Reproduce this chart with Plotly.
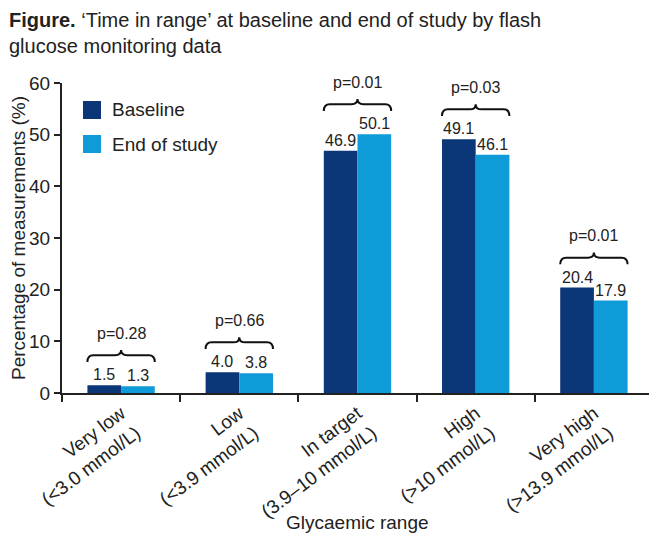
import plotly.graph_objects as go

categories = ["Very low", "Low", "In target", "High", "Very high"]
tick_labels = ["Very low<br>(&lt;3.0 mmol/L)", "Low<br>(&lt;3.9 mmol/L)", "In target<br>(3.9–10 mmol/L)",
               "High<br>(&gt;10 mmol/L)", "Very high<br>(&gt;13.9 mmol/L)"]
baseline = [1.5, 4.0, 46.9, 49.1, 20.4]
end_of_study = [1.3, 3.8, 50.1, 46.1, 17.9]
p_values = ["p=0.28", "p=0.66", "p=0.01", "p=0.03", "p=0.01"]
series_names = ["Baseline", "End of study"]

C_BASE = "#0b3677"
C_END = "#0f9ad8"
FONT = "Liberation Sans, Arial, sans-serif"
TXT = "#222"
BARGAP = 0.43
half = (1 - BARGAP) / 2  # width of one bar in category units
YMAX = 60

# the page body has an 8px margin: size the figure so it fits the 657x542 window
OFF = 8
W, H = 657 - OFF, 542 - OFF
# desired plot area in page pixels: x 62..653, y 83..393
L, R, T, B = 62 - OFF, 657 - 653, 83 - OFF, 542 - 393
PW, PH = W - L - R, H - T - B


def py(pix):
    """page pixel row -> paper y"""
    return (H - B - (pix - OFF)) / PH


def px(pix):
    """page pixel column -> paper x"""
    return (pix - OFF - L) / PW


fig = go.Figure()
fig.add_bar(x=categories, y=baseline, name=series_names[0], marker_color=C_BASE, marker_line_width=0)
fig.add_bar(x=categories, y=end_of_study, name=series_names[1], marker_color=C_END, marker_line_width=0)

annotations = []
shapes = []
for i, (b, e, p) in enumerate(zip(baseline, end_of_study, p_values)):
    for off, v in ((-half / 2, b), (half / 2, e)):
        annotations.append(dict(x=i + off, y=v, xref="x", yref="y", text=f"{v:.1f}", showarrow=False,
                                yanchor="bottom", font=dict(size=16, color=TXT, family=FONT)))
    yb = max(b, e) + 5.8
    x0, x1, xm = i - half, i + half, i
    d = 0.05
    y0, yt = yb - 1.3, yb + 1.0
    path = (f"M {x0},{y0} Q {x0},{yb} {x0+d},{yb} L {xm-d},{yb} Q {xm},{yb} {xm},{yt} "
            f"Q {xm},{yb} {xm+d},{yb} L {x1-d},{yb} Q {x1},{yb} {x1},{y0}")
    shapes.append(dict(type="path", path=path, xref="x", yref="y", line=dict(color="#111", width=2)))
    annotations.append(dict(x=i, y=(yb + 4.2) / YMAX, xref="x", yref="paper", text=p, showarrow=False,
                            yanchor="middle", font=dict(size=16, color=TXT, family=FONT)))

# custom legend
for k, (name, col) in enumerate(zip(series_names, [C_BASE, C_END])):
    ytop = 101 + 34 * k
    shapes.append(dict(type="rect", xref="paper", yref="paper",
                       x0=px(83), x1=px(101), y0=py(ytop), y1=py(ytop + 18),
                       fillcolor=col, line_width=0))
    annotations.append(dict(xref="paper", yref="paper", x=px(110), y=py(ytop + 9),
                            text=name, showarrow=False, xanchor="left", yanchor="middle",
                            font=dict(size=19, color=TXT, family=FONT)))

# figure title
annotations.append(dict(xref="paper", yref="paper", x=px(8), y=py(8), borderpad=0,
                        xanchor="left", yanchor="top", align="left", showarrow=False,
                        text="<b>Figure.</b> ‘Time in range’ at baseline and end of study by flash<br>glucose monitoring data",
                        font=dict(size=20, color=TXT, family=FONT)))
# x axis title
annotations.append(dict(xref="paper", yref="paper", x=0.5, y=py(522), xanchor="center", yanchor="middle",
                        showarrow=False, text="Glycaemic range", font=dict(size=19, color=TXT, family=FONT)))

fig.update_layout(
    width=W, height=H,
    margin=dict(l=L, r=R, t=T, b=B),
    paper_bgcolor="white", plot_bgcolor="white",
    barmode="group", bargap=BARGAP, bargroupgap=0,
    showlegend=False,
    font=dict(family=FONT, size=18, color=TXT),
    annotations=annotations, shapes=shapes,
)
fig.update_xaxes(type="category", tickvals=categories, ticktext=tick_labels, tickangle=-37,
                 tickson="boundaries", ticks="outside", ticklen=7, tickwidth=2, tickcolor=TXT,
                 showline=True, linewidth=2, linecolor=TXT, showgrid=False, automargin=False,
                 tickfont=dict(size=19, family=FONT, color=TXT))
fig.update_yaxes(range=[0, YMAX], dtick=10, ticks="outside", ticklen=6, tickwidth=2, tickcolor=TXT,
                 showline=True, linewidth=2, linecolor=TXT, showgrid=False, zeroline=False, automargin=False,
                 tickfont=dict(size=19, family=FONT, color=TXT),
                 title=dict(text="Percentage of measurements (%)", font=dict(size=19, family=FONT, color=TXT),
                            standoff=6))

fig.write_html("out.html")
